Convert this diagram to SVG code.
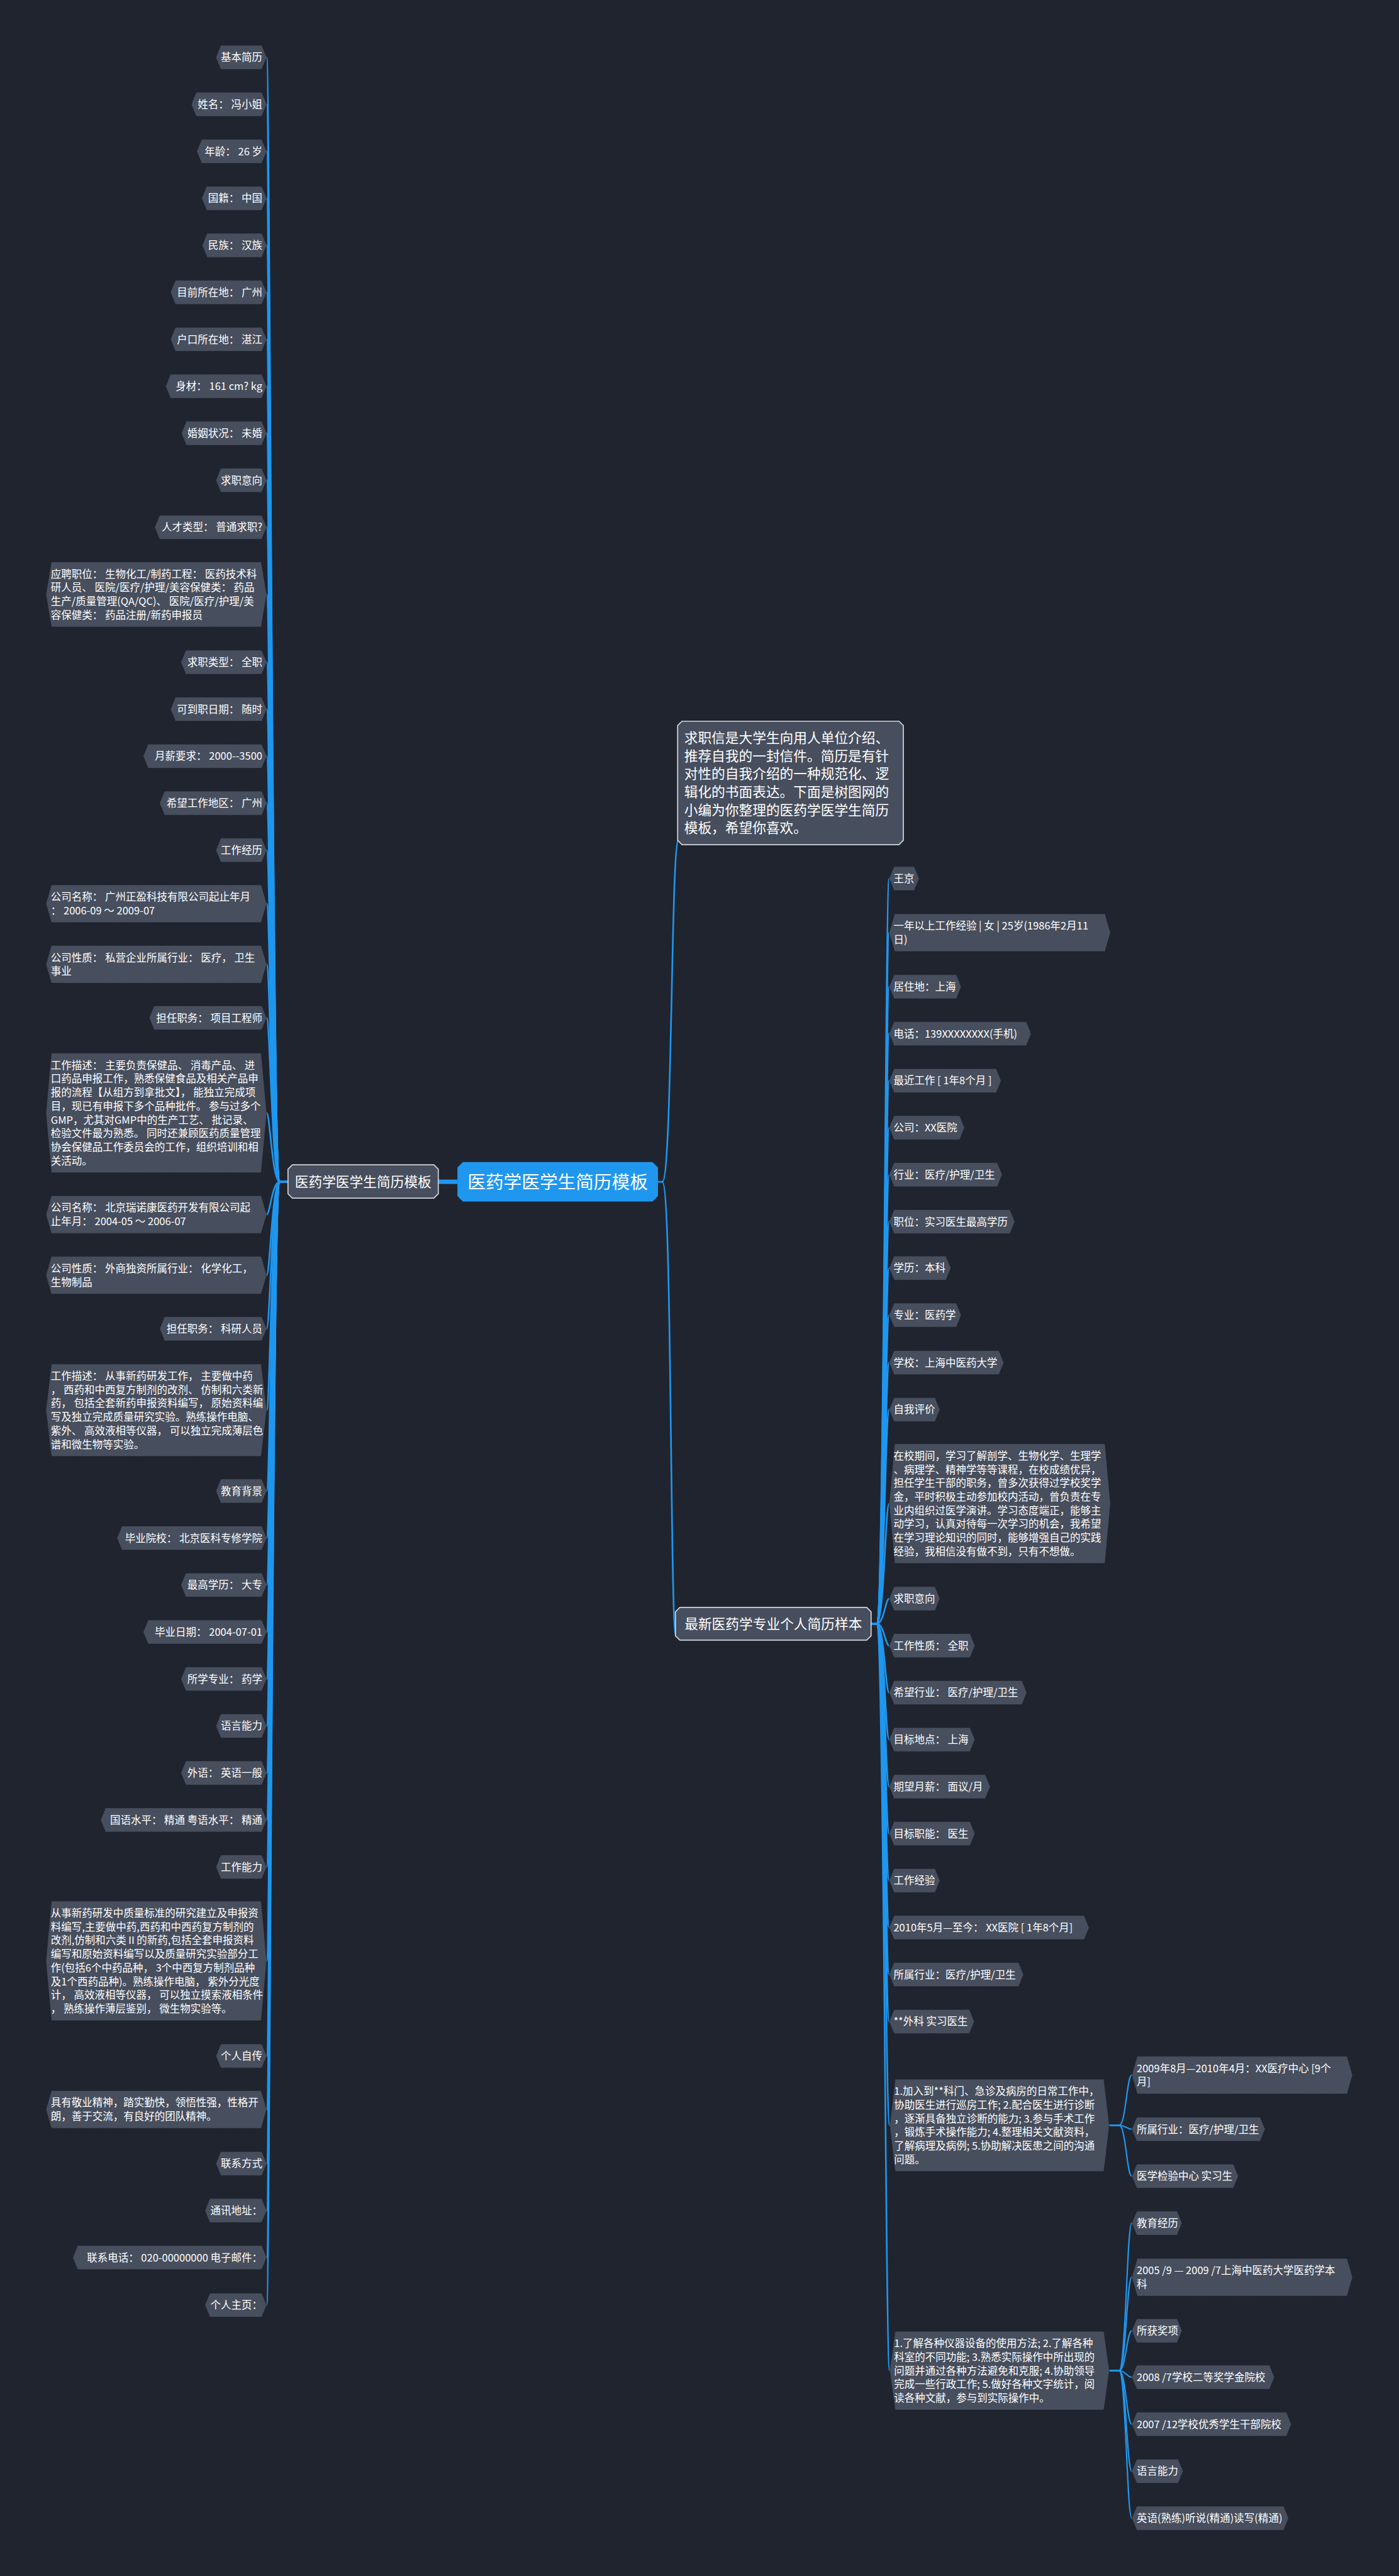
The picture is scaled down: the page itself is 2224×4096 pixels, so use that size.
<svg xmlns="http://www.w3.org/2000/svg" width="2224" height="4096" viewBox="0 0 2224 4096" xml:space="preserve">
<style>
.nd{fill:#474e5d;stroke:#1b1e26;stroke-width:1;stroke-dasharray:2 1}
.tx{fill:#ffffff;font-family:"Noto Sans CJK SC","Noto Sans",sans-serif;font-size:19px}
.te{text-anchor:end}
.cn{fill:none;stroke:#1f97ef;stroke-width:3;stroke-linecap:round}
.c3{fill:none;stroke:#1f97ef;stroke-width:2.5;stroke-linecap:round}
.big{fill:#474e5d;stroke:#cfd3da;stroke-width:2}
.tb{fill:#ffffff;font-family:"Noto Sans CJK SC","Noto Sans",sans-serif;font-size:25px}
</style>
<rect width="2224" height="4096" fill="#20242f"/>
<g transform="scale(0.86875)">
<g id="connectors">
<path d="M837,2163 L802,2163" style="fill:none;stroke:#1f97ef;stroke-width:8"/>
<path class="cn" d="M1204,2163 L1212,2163 C1230,2163 1228,1545 1241,1538"/>
<path class="cn" d="M1212,2163 C1230,2163 1226,2995 1237,2995"/>
<path class="cn" d="M527,2163 L512,2163 C498,2163 494,105 488,105"/>
<path class="cn" d="M527,2163 L512,2163 C498,2163 494,191 488,191"/>
<path class="cn" d="M527,2163 L512,2163 C498,2163 494,277 488,277"/>
<path class="cn" d="M527,2163 L512,2163 C498,2163 494,363 488,363"/>
<path class="cn" d="M527,2163 L512,2163 C498,2163 494,449 488,449"/>
<path class="cn" d="M527,2163 L512,2163 C498,2163 494,535 488,535"/>
<path class="cn" d="M527,2163 L512,2163 C498,2163 494,621 488,621"/>
<path class="cn" d="M527,2163 L512,2163 C498,2163 494,707 488,707"/>
<path class="cn" d="M527,2163 L512,2163 C498,2163 494,793 488,793"/>
<path class="cn" d="M527,2163 L512,2163 C498,2163 494,879 488,879"/>
<path class="cn" d="M527,2163 L512,2163 C498,2163 494,965 488,965"/>
<path class="cn" d="M527,2163 L512,2163 C498,2163 494,1088 488,1088"/>
<path class="cn" d="M527,2163 L512,2163 C498,2163 494,1212 488,1212"/>
<path class="cn" d="M527,2163 L512,2163 C498,2163 494,1298 488,1298"/>
<path class="cn" d="M527,2163 L512,2163 C498,2163 494,1384 488,1384"/>
<path class="cn" d="M527,2163 L512,2163 C498,2163 494,1470 488,1470"/>
<path class="cn" d="M527,2163 L512,2163 C498,2163 494,1556 488,1556"/>
<path class="cn" d="M527,2163 L512,2163 C498,2163 494,1654 488,1654"/>
<path class="cn" d="M527,2163 L512,2163 C498,2163 494,1765 488,1765"/>
<path class="cn" d="M527,2163 L512,2163 C498,2163 494,1863 488,1863"/>
<path class="cn" d="M527,2163 L512,2163 C498,2163 494,2037 488,2037"/>
<path class="cn" d="M527,2163 L512,2163 C498,2163 494,2223 488,2223"/>
<path class="cn" d="M527,2163 L512,2163 C498,2163 494,2334 488,2334"/>
<path class="cn" d="M527,2163 L512,2163 C498,2163 494,2432 488,2432"/>
<path class="cn" d="M527,2163 L512,2163 C498,2163 494,2581 488,2581"/>
<path class="cn" d="M527,2163 L512,2163 C498,2163 494,2729 488,2729"/>
<path class="cn" d="M527,2163 L512,2163 C498,2163 494,2815 488,2815"/>
<path class="cn" d="M527,2163 L512,2163 C498,2163 494,2901 488,2901"/>
<path class="cn" d="M527,2163 L512,2163 C498,2163 494,2987 488,2987"/>
<path class="cn" d="M527,2163 L512,2163 C498,2163 494,3073 488,3073"/>
<path class="cn" d="M527,2163 L512,2163 C498,2163 494,3159 488,3159"/>
<path class="cn" d="M527,2163 L512,2163 C498,2163 494,3245 488,3245"/>
<path class="cn" d="M527,2163 L512,2163 C498,2163 494,3331 488,3331"/>
<path class="cn" d="M527,2163 L512,2163 C498,2163 494,3417 488,3417"/>
<path class="cn" d="M527,2163 L512,2163 C498,2163 494,3589 488,3589"/>
<path class="cn" d="M527,2163 L512,2163 C498,2163 494,3763 488,3763"/>
<path class="cn" d="M527,2163 L512,2163 C498,2163 494,3861 488,3861"/>
<path class="cn" d="M527,2163 L512,2163 C498,2163 494,3960 488,3960"/>
<path class="cn" d="M527,2163 L512,2163 C498,2163 494,4046 488,4046"/>
<path class="cn" d="M527,2163 L512,2163 C498,2163 494,4132 488,4132"/>
<path class="cn" d="M527,2163 L512,2163 C498,2163 494,4219 488,4219"/>
<path class="cn" d="M1594,2972 L1604,2972 C1618,2972 1620,1608 1627,1608"/>
<path class="cn" d="M1594,2972 L1604,2972 C1618,2972 1620,1707 1627,1707"/>
<path class="cn" d="M1594,2972 L1604,2972 C1618,2972 1620,1806 1627,1806"/>
<path class="cn" d="M1594,2972 L1604,2972 C1618,2972 1620,1892 1627,1892"/>
<path class="cn" d="M1594,2972 L1604,2972 C1618,2972 1620,1978 1627,1978"/>
<path class="cn" d="M1594,2972 L1604,2972 C1618,2972 1620,2064 1627,2064"/>
<path class="cn" d="M1594,2972 L1604,2972 C1618,2972 1620,2150 1627,2150"/>
<path class="cn" d="M1594,2972 L1604,2972 C1618,2972 1620,2236 1627,2236"/>
<path class="cn" d="M1594,2972 L1604,2972 C1618,2972 1620,2321 1627,2321"/>
<path class="cn" d="M1594,2972 L1604,2972 C1618,2972 1620,2407 1627,2407"/>
<path class="cn" d="M1594,2972 L1604,2972 C1618,2972 1620,2494 1627,2494"/>
<path class="cn" d="M1594,2972 L1604,2972 C1618,2972 1620,2580 1627,2580"/>
<path class="cn" d="M1594,2972 L1604,2972 C1618,2972 1620,2752 1627,2752"/>
<path class="cn" d="M1594,2972 L1604,2972 C1618,2972 1620,2926 1627,2926"/>
<path class="cn" d="M1594,2972 L1604,2972 C1618,2972 1620,3012 1627,3012"/>
<path class="cn" d="M1594,2972 L1604,2972 C1618,2972 1620,3098 1627,3098"/>
<path class="cn" d="M1594,2972 L1604,2972 C1618,2972 1620,3184 1627,3184"/>
<path class="cn" d="M1594,2972 L1604,2972 C1618,2972 1620,3270 1627,3270"/>
<path class="cn" d="M1594,2972 L1604,2972 C1618,2972 1620,3356 1627,3356"/>
<path class="cn" d="M1594,2972 L1604,2972 C1618,2972 1620,3442 1627,3442"/>
<path class="cn" d="M1594,2972 L1604,2972 C1618,2972 1620,3528 1627,3528"/>
<path class="cn" d="M1594,2972 L1604,2972 C1618,2972 1620,3614 1627,3614"/>
<path class="cn" d="M1594,2972 L1604,2972 C1618,2972 1620,3700 1627,3700"/>
<path class="cn" d="M1594,2972 L1604,2972 C1618,2972 1620,3890 1628,3890"/>
<path class="cn" d="M1594,2972 L1604,2972 C1618,2972 1620,4339 1628,4339"/>
<path class="c3" d="M2030,3890 L2048,3890 C2060,3890 2062,3798 2071,3798"/>
<path class="c3" d="M2030,3890 L2048,3890 C2060,3890 2062,3897 2071,3897"/>
<path class="c3" d="M2030,3890 L2048,3890 C2060,3890 2062,3983 2071,3983"/>
<path class="c3" d="M2030,4339 L2048,4339 C2060,4339 2062,4069 2071,4069"/>
<path class="c3" d="M2030,4339 L2048,4339 C2060,4339 2062,4168 2071,4168"/>
<path class="c3" d="M2030,4339 L2048,4339 C2060,4339 2062,4266 2071,4266"/>
<path class="c3" d="M2030,4339 L2048,4339 C2060,4339 2062,4351 2071,4351"/>
<path class="c3" d="M2030,4339 L2048,4339 C2060,4339 2062,4437 2071,4437"/>
<path class="c3" d="M2030,4339 L2048,4339 C2060,4339 2062,4523 2071,4523"/>
<path class="c3" d="M2030,4339 L2048,4339 C2060,4339 2062,4609 2071,4609"/>
</g>

<g id="root">
<path d="M847,2127 H1194 L1204,2137 V2189 L1194,2199 H847 L837,2189 V2137 Z" fill="#1f97ef"/>
<text x="1020.5" y="2175" text-anchor="middle" style="fill:#fff;font-family:'Noto Sans CJK SC','Noto Sans',sans-serif;font-size:33px">医药学医学生简历模板</text>
</g>
<g id="branch-left">
<path class="big" d="M535,2132 H794 L802,2140 V2185 L794,2193 H535 L527,2185 V2140 Z"/>
<text class="tb" x="664.5" y="2172" text-anchor="middle">医药学医学生简历模板</text>
</g>
<g id="intro">
<path class="big" d="M1248,1320 H1645 L1653,1328 V1538 L1645,1546 H1248 L1240,1538 V1328 Z"/>
<text class="tb" x="1252" y="1359.5">求职信是大学生向用人单位介绍、</text>
<text class="tb" x="1252" y="1392.5">推荐自我的一封信件。简历是有针</text>
<text class="tb" x="1252" y="1425.5">对性的自我介绍的一种规范化、逻</text>
<text class="tb" x="1252" y="1458.5">辑化的书面表达。下面是树图网的</text>
<text class="tb" x="1252" y="1491.5">小编为你整理的医药学医学生简历</text>
<text class="tb" x="1252" y="1524.5">模板，希望你喜欢。</text>
</g>
<g id="branch-right">
<path class="big" d="M1244,2942 H1586 L1594,2950 V2994 L1586,3002 H1244 L1236,2994 V2950 Z"/>
<text class="tb" x="1415" y="2981" text-anchor="middle">最新医药学专业个人简历样本</text>
</g>

<g id="L01"><polygon class="nd" points="395,105 404,83 479,83 488,105 479,127 404,127"/><text class="tx te" x="480" y="112">基本简历</text></g>
<g id="L02"><polygon class="nd" points="350,191 359,169 479,169 488,191 479,213 359,213"/><text class="tx te" x="480" y="198">姓名：  冯小姐</text></g>
<g id="L03"><polygon class="nd" points="360,277 369,255 479,255 488,277 479,299 369,299"/><text class="tx te" x="480" y="284">年龄：  26 岁</text></g>
<g id="L04"><polygon class="nd" points="369,363 378,341 479,341 488,363 479,385 378,385"/><text class="tx te" x="480" y="370">国籍：  中国</text></g>
<g id="L05"><polygon class="nd" points="370,449 379,427 479,427 488,449 479,471 379,471"/><text class="tx te" x="480" y="456">民族：  汉族</text></g>
<g id="L06"><polygon class="nd" points="312,535 321,513 479,513 488,535 479,557 321,557"/><text class="tx te" x="480" y="542">目前所在地：  广州</text></g>
<g id="L07"><polygon class="nd" points="312,621 321,599 479,599 488,621 479,643 321,643"/><text class="tx te" x="480" y="628">户口所在地：  湛江</text></g>
<g id="L08"><polygon class="nd" points="303,707 312,685 479,685 488,707 479,729 312,729"/><text class="tx te" x="480" y="714">身材：  161 cm? kg</text></g>
<g id="L09"><polygon class="nd" points="332,793 341,771 479,771 488,793 479,815 341,815"/><text class="tx te" x="480" y="800">婚姻状况：  未婚</text></g>
<g id="L10"><polygon class="nd" points="395,879 404,857 479,857 488,879 479,901 404,901"/><text class="tx te" x="480" y="886">求职意向</text></g>
<g id="L11"><polygon class="nd" points="283,965 292,943 479,943 488,965 479,987 292,987"/><text class="tx te" x="480" y="972">人才类型：  普通求职?</text></g>
<g id="L12"><polygon class="nd" points="84,1088 94,1028.5 478,1028.5 488,1088 478,1147.5 94,1147.5"/>
<text class="tx" x="93" y="1057.5">应聘职位：  生物化工/制药工程：  医药技术科</text>
<text class="tx" x="93" y="1082.5">研人员、 医院/医疗/护理/美容保健类：  药品</text>
<text class="tx" x="93" y="1107.5">生产/质量管理(QA/QC)、 医院/医疗/护理/美</text>
<text class="tx" x="93" y="1132.5">容保健类：  药品注册/新药申报员</text></g>
<g id="L13"><polygon class="nd" points="331,1212 340,1190 479,1190 488,1212 479,1234 340,1234"/><text class="tx te" x="480" y="1219">求职类型：  全职</text></g>
<g id="L14"><polygon class="nd" points="312,1298 321,1276 479,1276 488,1298 479,1320 321,1320"/><text class="tx te" x="480" y="1305">可到职日期：  随时</text></g>
<g id="L15"><polygon class="nd" points="262,1384 271,1362 479,1362 488,1384 479,1406 271,1406"/><text class="tx te" x="480" y="1391">月薪要求：  2000--3500</text></g>
<g id="L16"><polygon class="nd" points="292,1470 301,1448 479,1448 488,1470 479,1492 301,1492"/><text class="tx te" x="480" y="1477">希望工作地区：  广州</text></g>
<g id="L17"><polygon class="nd" points="395,1556 404,1534 479,1534 488,1556 479,1578 404,1578"/><text class="tx te" x="480" y="1563">工作经历</text></g>
<g id="L18"><polygon class="nd" points="84,1654 94,1619.5 478,1619.5 488,1654 478,1688.5 94,1688.5"/>
<text class="tx" x="93" y="1648.5">公司名称：  广州正盈科技有限公司起止年月</text>
<text class="tx" x="93" y="1673.5">：  2006-09  ～  2009-07</text></g>
<g id="L19"><polygon class="nd" points="84,1765 94,1730.5 478,1730.5 488,1765 478,1799.5 94,1799.5"/>
<text class="tx" x="93" y="1759.5">公司性质：  私营企业所属行业：  医疗，  卫生</text>
<text class="tx" x="93" y="1784.5">事业</text></g>
<g id="L20"><polygon class="nd" points="273,1863 282,1841 479,1841 488,1863 479,1885 282,1885"/><text class="tx te" x="480" y="1870">担任职务：  项目工程师</text></g>
<g id="L21"><polygon class="nd" points="84,2037 94,1927.5 478,1927.5 488,2037 478,2146.5 94,2146.5"/>
<text class="tx" x="93" y="1956.5">工作描述：  主要负责保健品、 消毒产品、 进</text>
<text class="tx" x="93" y="1981.5">口药品申报工作，熟悉保健食品及相关产品申</text>
<text class="tx" x="93" y="2006.5">报的流程【从组方到拿批文】，  能独立完成项</text>
<text class="tx" x="93" y="2031.5">目，现已有申报下多个品种批件。 参与过多个</text>
<text class="tx" x="93" y="2056.5">GMP，尤其对GMP中的生产工艺、 批记录、</text>
<text class="tx" x="93" y="2081.5">检验文件最为熟悉。 同时还兼顾医药质量管理</text>
<text class="tx" x="93" y="2106.5">协会保健品工作委员会的工作，组织培训和相</text>
<text class="tx" x="93" y="2131.5">关活动。</text></g>
<g id="L22"><polygon class="nd" points="84,2223 94,2188.5 478,2188.5 488,2223 478,2257.5 94,2257.5"/>
<text class="tx" x="93" y="2217.5">公司名称：  北京瑞诺康医药开发有限公司起</text>
<text class="tx" x="93" y="2242.5">止年月：  2004-05  ～  2006-07</text></g>
<g id="L23"><polygon class="nd" points="84,2334 94,2299.5 478,2299.5 488,2334 478,2368.5 94,2368.5"/>
<text class="tx" x="93" y="2328.5">公司性质：  外商独资所属行业：  化学化工，</text>
<text class="tx" x="93" y="2353.5">生物制品</text></g>
<g id="L24"><polygon class="nd" points="292,2432 301,2410 479,2410 488,2432 479,2454 301,2454"/><text class="tx te" x="480" y="2439">担任职务：  科研人员</text></g>
<g id="L25"><polygon class="nd" points="84,2581 94,2496.5 478,2496.5 488,2581 478,2665.5 94,2665.5"/>
<text class="tx" x="93" y="2525.5">工作描述：  从事新药研发工作，  主要做中药</text>
<text class="tx" x="93" y="2550.5">，  西药和中西复方制剂的改剂、 仿制和六类新</text>
<text class="tx" x="93" y="2575.5">药，  包括全套新药申报资料编写，  原始资料编</text>
<text class="tx" x="93" y="2600.5">写及独立完成质量研究实验。熟练操作电脑、</text>
<text class="tx" x="93" y="2625.5">紫外、 高效液相等仪器，  可以独立完成薄层色</text>
<text class="tx" x="93" y="2650.5">谱和微生物等实验。</text></g>
<g id="L26"><polygon class="nd" points="395,2729 404,2707 479,2707 488,2729 479,2751 404,2751"/><text class="tx te" x="480" y="2736">教育背景</text></g>
<g id="L27"><polygon class="nd" points="214,2815 223,2793 479,2793 488,2815 479,2837 223,2837"/><text class="tx te" x="480" y="2822">毕业院校：  北京医科专修学院</text></g>
<g id="L28"><polygon class="nd" points="331,2901 340,2879 479,2879 488,2901 479,2923 340,2923"/><text class="tx te" x="480" y="2908">最高学历：  大专</text></g>
<g id="L29"><polygon class="nd" points="262,2987 271,2965 479,2965 488,2987 479,3009 271,3009"/><text class="tx te" x="480" y="2994">毕业日期：  2004-07-01</text></g>
<g id="L30"><polygon class="nd" points="331,3073 340,3051 479,3051 488,3073 479,3095 340,3095"/><text class="tx te" x="480" y="3080">所学专业：  药学</text></g>
<g id="L31"><polygon class="nd" points="395,3159 404,3137 479,3137 488,3159 479,3181 404,3181"/><text class="tx te" x="480" y="3166">语言能力</text></g>
<g id="L32"><polygon class="nd" points="331,3245 340,3223 479,3223 488,3245 479,3267 340,3267"/><text class="tx te" x="480" y="3252">外语：  英语一般</text></g>
<g id="L33"><polygon class="nd" points="184,3331 193,3309 479,3309 488,3331 479,3353 193,3353"/><text class="tx te" x="480" y="3338">国语水平：  精通 粤语水平：  精通</text></g>
<g id="L34"><polygon class="nd" points="395,3417 404,3395 479,3395 488,3417 479,3439 404,3439"/><text class="tx te" x="480" y="3424">工作能力</text></g>
<g id="L35"><polygon class="nd" points="84,3589 94,3479.5 478,3479.5 488,3589 478,3698.5 94,3698.5"/>
<text class="tx" x="93" y="3508.5">从事新药研发中质量标准的研究建立及申报资</text>
<text class="tx" x="93" y="3533.5">料编写,主要做中药,西药和中西药复方制剂的</text>
<text class="tx" x="93" y="3558.5">改剂,仿制和六类Ⅱ的新药,包括全套申报资料</text>
<text class="tx" x="93" y="3583.5">编写和原始资料编写以及质量研究实验部分工</text>
<text class="tx" x="93" y="3608.5">作(包括6个中药品种，  3个中西复方制剂品种</text>
<text class="tx" x="93" y="3633.5">及1个西药品种)。熟练操作电脑，  紫外分光度</text>
<text class="tx" x="93" y="3658.5">计，  高效液相等仪器，  可以独立摸索液相条件</text>
<text class="tx" x="93" y="3683.5">，  熟练操作薄层鉴别，  微生物实验等。</text></g>
<g id="L36"><polygon class="nd" points="395,3763 404,3741 479,3741 488,3763 479,3785 404,3785"/><text class="tx te" x="480" y="3770">个人自传</text></g>
<g id="L37"><polygon class="nd" points="84,3861 94,3826.5 478,3826.5 488,3861 478,3895.5 94,3895.5"/>
<text class="tx" x="93" y="3855.5">具有敬业精神，踏实勤快，领悟性强，性格开</text>
<text class="tx" x="93" y="3880.5">朗，善于交流，有良好的团队精神。</text></g>
<g id="L38"><polygon class="nd" points="395,3960 404,3938 479,3938 488,3960 479,3982 404,3982"/><text class="tx te" x="480" y="3967">联系方式</text></g>
<g id="L39"><polygon class="nd" points="375,4046 384,4024 479,4024 488,4046 479,4068 384,4068"/><text class="tx te" x="480" y="4053">通讯地址：</text></g>
<g id="L40"><polygon class="nd" points="133,4132 142,4110 479,4110 488,4132 479,4154 142,4154"/><text class="tx te" x="480" y="4139">联系电话：  020-00000000 电子邮件：</text></g>
<g id="L41"><polygon class="nd" points="375,4219 384,4197 479,4197 488,4219 479,4241 384,4241"/><text class="tx te" x="480" y="4226">个人主页：</text></g>

<g id="R01"><polygon class="nd" points="1627,1608 1636,1586 1673,1586 1682,1608 1673,1630 1636,1630"/><text class="tx" x="1635" y="1615">王京</text></g>
<g id="R02"><polygon class="nd" points="1627,1707 1637,1672.5 2022,1672.5 2032,1707 2022,1741.5 1637,1741.5"/>
<text class="tx" x="1635" y="1701.5">一年以上工作经验 | 女 | 25岁(1986年2月11</text>
<text class="tx" x="1635" y="1726.5">日)</text></g>
<g id="R03"><polygon class="nd" points="1627,1806 1636,1784 1750,1784 1759,1806 1750,1828 1636,1828"/><text class="tx" x="1635" y="1813">居住地：上海</text></g>
<g id="R04"><polygon class="nd" points="1627,1892 1636,1870 1878,1870 1887,1892 1878,1914 1636,1914"/><text class="tx" x="1635" y="1899">电话：139XXXXXXXX(手机)</text></g>
<g id="R05"><polygon class="nd" points="1627,1978 1636,1956 1823,1956 1832,1978 1823,2000 1636,2000"/><text class="tx" x="1635" y="1985">最近工作 [ 1年8个月 ]</text></g>
<g id="R06"><polygon class="nd" points="1627,2064 1636,2042 1756,2042 1765,2064 1756,2086 1636,2086"/><text class="tx" x="1635" y="2071">公司：XX医院</text></g>
<g id="R07"><polygon class="nd" points="1627,2150 1636,2128 1825,2128 1834,2150 1825,2172 1636,2172"/><text class="tx" x="1635" y="2157">行业：医疗/护理/卫生</text></g>
<g id="R08"><polygon class="nd" points="1627,2236 1636,2214 1848,2214 1857,2236 1848,2258 1636,2258"/><text class="tx" x="1635" y="2243">职位：实习医生最高学历</text></g>
<g id="R09"><polygon class="nd" points="1627,2321 1636,2299 1731,2299 1740,2321 1731,2343 1636,2343"/><text class="tx" x="1635" y="2328">学历：本科</text></g>
<g id="R10"><polygon class="nd" points="1627,2407 1636,2385 1750,2385 1759,2407 1750,2429 1636,2429"/><text class="tx" x="1635" y="2414">专业：医药学</text></g>
<g id="R11"><polygon class="nd" points="1627,2494 1636,2472 1828,2472 1837,2494 1828,2516 1636,2516"/><text class="tx" x="1635" y="2501">学校：上海中医药大学</text></g>
<g id="R12"><polygon class="nd" points="1627,2580 1636,2558 1711,2558 1720,2580 1711,2602 1636,2602"/><text class="tx" x="1635" y="2587">自我评价</text></g>
<g id="R13"><polygon class="nd" points="1627,2752 1637,2642.5 2022,2642.5 2032,2752 2022,2861.5 1637,2861.5"/>
<text class="tx" x="1635" y="2671.5">在校期间，学习了解剖学、生物化学、生理学</text>
<text class="tx" x="1635" y="2696.5">、病理学、精神学等等课程，在校成绩优异，</text>
<text class="tx" x="1635" y="2721.5">担任学生干部的职务，曾多次获得过学校奖学</text>
<text class="tx" x="1635" y="2746.5">金，平时积极主动参加校内活动，曾负责在专</text>
<text class="tx" x="1635" y="2771.5">业内组织过医学演讲。学习态度端正，能够主</text>
<text class="tx" x="1635" y="2796.5">动学习，认真对待每一次学习的机会，我希望</text>
<text class="tx" x="1635" y="2821.5">在学习理论知识的同时，能够增强自己的实践</text>
<text class="tx" x="1635" y="2846.5">经验，我相信没有做不到，只有不想做。</text></g>
<g id="R14"><polygon class="nd" points="1627,2926 1636,2904 1711,2904 1720,2926 1711,2948 1636,2948"/><text class="tx" x="1635" y="2933">求职意向</text></g>
<g id="R15"><polygon class="nd" points="1627,3012 1636,2990 1775,2990 1784,3012 1775,3034 1636,3034"/><text class="tx" x="1635" y="3019">工作性质：  全职</text></g>
<g id="R16"><polygon class="nd" points="1627,3098 1636,3076 1870,3076 1879,3098 1870,3120 1636,3120"/><text class="tx" x="1635" y="3105">希望行业：  医疗/护理/卫生</text></g>
<g id="R17"><polygon class="nd" points="1627,3184 1636,3162 1775,3162 1784,3184 1775,3206 1636,3206"/><text class="tx" x="1635" y="3191">目标地点：  上海</text></g>
<g id="R18"><polygon class="nd" points="1627,3270 1636,3248 1803,3248 1812,3270 1803,3292 1636,3292"/><text class="tx" x="1635" y="3277">期望月薪：  面议/月</text></g>
<g id="R19"><polygon class="nd" points="1627,3356 1636,3334 1775,3334 1784,3356 1775,3378 1636,3378"/><text class="tx" x="1635" y="3363">目标职能：  医生</text></g>
<g id="R20"><polygon class="nd" points="1627,3442 1636,3420 1711,3420 1720,3442 1711,3464 1636,3464"/><text class="tx" x="1635" y="3449">工作经验</text></g>
<g id="R21"><polygon class="nd" points="1627,3528 1636,3506 1984,3506 1993,3528 1984,3550 1636,3550"/><text class="tx" x="1635" y="3535">2010年5月—至今：  XX医院 [ 1年8个月]</text></g>
<g id="R22"><polygon class="nd" points="1627,3614 1636,3592 1864,3592 1873,3614 1864,3636 1636,3636"/><text class="tx" x="1635" y="3621">所属行业：医疗/护理/卫生</text></g>
<g id="R23"><polygon class="nd" points="1627,3700 1636,3678 1774,3678 1783,3700 1774,3722 1636,3722"/><text class="tx" x="1635" y="3707">**外科 实习医生</text></g>
<g id="R24"><polygon class="nd" points="1628,3890 1638,3805.5 2020,3805.5 2030,3890 2020,3974.5 1638,3974.5"/>
<text class="tx" x="1636" y="3834.5">1.加入到**科门、急诊及病房的日常工作中，</text>
<text class="tx" x="1636" y="3859.5">协助医生进行巡房工作; 2.配合医生进行诊断</text>
<text class="tx" x="1636" y="3884.5">，逐渐具备独立诊断的能力; 3.参与手术工作</text>
<text class="tx" x="1636" y="3909.5">，锻炼手术操作能力; 4.整理相关文献资料，</text>
<text class="tx" x="1636" y="3934.5">了解病理及病例; 5.协助解决医患之间的沟通</text>
<text class="tx" x="1636" y="3959.5">问题。</text></g>
<g id="R25"><polygon class="nd" points="1628,4339 1638,4267 2020,4267 2030,4339 2020,4411 1638,4411"/>
<text class="tx" x="1636" y="4296">1.了解各种仪器设备的使用方法; 2.了解各种</text>
<text class="tx" x="1636" y="4321">科室的不同功能; 3.熟悉实际操作中所出现的</text>
<text class="tx" x="1636" y="4346">问题并通过各种方法避免和克服; 4.协助领导</text>
<text class="tx" x="1636" y="4371">完成一些行政工作; 5.做好各种文字统计，阅</text>
<text class="tx" x="1636" y="4396">读各种文献，参与到实际操作中。</text></g>

<g id="S01"><polygon class="nd" points="2071,3798 2081,3763.5 2465,3763.5 2475,3798 2465,3832.5 2081,3832.5"/>
<text class="tx" x="2080" y="3792.5">2009年8月—2010年4月：XX医疗中心 [9个</text>
<text class="tx" x="2080" y="3817.5">月]</text></g>
<g id="S02"><polygon class="nd" points="2071,3897 2080,3875 2306,3875 2315,3897 2306,3919 2080,3919"/><text class="tx" x="2080" y="3904">所属行业：医疗/护理/卫生</text></g>
<g id="S03"><polygon class="nd" points="2071,3983 2080,3961 2257,3961 2266,3983 2257,4005 2080,4005"/><text class="tx" x="2080" y="3990">医学检验中心 实习生</text></g>
<g id="S04"><polygon class="nd" points="2071,4069 2080,4047 2154,4047 2163,4069 2154,4091 2080,4091"/><text class="tx" x="2080" y="4076">教育经历</text></g>
<g id="S05"><polygon class="nd" points="2071,4168 2081,4133.5 2465,4133.5 2475,4168 2465,4202.5 2081,4202.5"/>
<text class="tx" x="2080" y="4162.5">2005 /9 — 2009 /7上海中医药大学医药学本</text>
<text class="tx" x="2080" y="4187.5">科</text></g>
<g id="S06"><polygon class="nd" points="2071,4266 2080,4244 2154,4244 2163,4266 2154,4288 2080,4288"/><text class="tx" x="2080" y="4273">所获奖项</text></g>
<g id="S07"><polygon class="nd" points="2071,4351 2080,4329 2323,4329 2332,4351 2323,4373 2080,4373"/><text class="tx" x="2080" y="4358">2008 /7学校二等奖学金院校</text></g>
<g id="S08"><polygon class="nd" points="2071,4437 2080,4415 2354,4415 2363,4437 2354,4459 2080,4459"/><text class="tx" x="2080" y="4444">2007 /12学校优秀学生干部院校</text></g>
<g id="S09"><polygon class="nd" points="2071,4523 2080,4501 2156,4501 2165,4523 2156,4545 2080,4545"/><text class="tx" x="2080" y="4530">语言能力</text></g>
<g id="S10"><polygon class="nd" points="2071,4609 2080,4587 2349,4587 2358,4609 2349,4631 2080,4631"/><text class="tx" x="2080" y="4616">英语(熟练)听说(精通)读写(精通)</text></g>
</g>
</svg>
